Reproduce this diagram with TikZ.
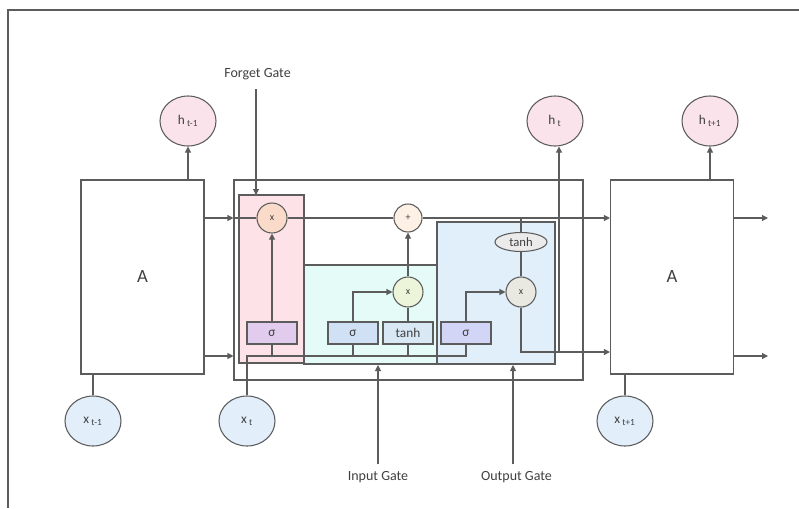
\documentclass[tikz,border=0pt]{standalone}
\usepackage{fontspec}
\setmainfont{Carlito}
\usetikzlibrary{arrows.meta,shapes.geometric,calc}
\definecolor{ln}{HTML}{5C5C5C}
\definecolor{txt}{HTML}{404040}
\definecolor{pinkg}{HTML}{FDE3E7}
\definecolor{cyang}{HTML}{E4FBF7}
\definecolor{blueg}{HTML}{E1EFFB}
\definecolor{purs}{HTML}{E2CCEE}
\definecolor{blus}{HTML}{D0E1F5}
\definecolor{tanhb}{HTML}{D9E8F5}
\definecolor{outs}{HTML}{D3D5F7}
\definecolor{hcol}{HTML}{FBE3EC}
\definecolor{xcol}{HTML}{E2EEFA}
\definecolor{fxcol}{HTML}{FADBC9}
\definecolor{plcol}{HTML}{FDF1E5}
\definecolor{ixcol}{HTML}{ECF5DA}
\definecolor{oxcol}{HTML}{E9E9E2}
\definecolor{thcol}{HTML}{EBEBEB}
\tikzset{
  lw/.style={draw=ln, line width=0.8pt},
  arr/.style={lw, -{Triangle[length=4.5pt,width=4.5pt]}},
  abox/.style={lw, fill=white, minimum width=92.25pt, minimum height=145.5pt, inner sep=0pt, font=\fontsize{14}{16}\selectfont, text=txt},
  gbox/.style={lw, inner sep=0pt},
  sbox/.style={lw, minimum width=37.5pt, minimum height=16.5pt, inner sep=0pt, font=\fontsize{10}{12}\selectfont, text=txt},
  bigc/.style={lw, ellipse, minimum width=42pt, minimum height=37.5pt, inner sep=0pt, font=\fontsize{10}{12}\selectfont, text=txt},
  smc/.style={lw, circle, minimum size=22.5pt, inner sep=0pt, font=\fontsize{7.5}{9}\selectfont, text=txt},
  lbl/.style={font=\fontsize{10.5}{12}\selectfont, text=txt, inner sep=1pt},
}
\begin{document}
\begin{tikzpicture}[x=0.75pt,y=-0.75pt]
\useasboundingbox (0,0) rectangle (799,508);
% frame
\draw[ln, line width=0.9pt] (8,508) -- (8,10) -- (799,10);

% cell and gate regions
\node[lw, minimum width=261.75pt, minimum height=150pt, inner sep=0pt] (cell) at (408.5,280) {};
\node[gbox, fill=pinkg, minimum width=48.75pt, minimum height=126pt] (pink) at (271.5,279) {};
\node[gbox, fill=cyang, minimum width=99.75pt, minimum height=74.25pt] (cyan) at (370.5,314.5) {};
\node[gbox, fill=blueg, minimum width=88.5pt, minimum height=106.5pt] (blue) at (496,293) {};

% A boxes
\node[abox] (A1) at (142.5,277) {A};
\node[abox] (A2) at (672,277) {A};

% outer circles
\node[bigc, fill=hcol] (hp) at (188,121) {h\,\textsubscript{t-1}};
\node[bigc, fill=hcol] (ht) at (555,121) {h\,\textsubscript{t}};
\node[bigc, fill=hcol] (hn) at (710,121) {h\,\textsubscript{t+1}};
\node[bigc, fill=xcol] (xp) at (93,421) {x\,\textsubscript{t-1}};
\node[bigc, fill=xcol] (xt) at (247,421) {x\,\textsubscript{t}};
\node[bigc, fill=xcol] (xn) at (625,421) {x\,\textsubscript{t+1}};

% inner operators
\node[smc, fill=fxcol] (fx) at (272,218) {x};
\node[smc, fill=plcol, minimum size=21pt] (pl) at (408,218) {+};
\node[smc, fill=ixcol] (ix) at (408,292) {x};
\node[smc, fill=oxcol] (ox) at (521,292) {x};
\node[lw, ellipse, fill=thcol, minimum width=39pt, minimum height=14.25pt, inner sep=0pt, font=\fontsize{9.5}{11}\selectfont, text=txt] (th) at (521,242) {tanh};

\node[sbox, fill=purs] (fs) at (272,333) {σ};
\node[sbox, fill=blus] (is) at (353,333) {σ};
\node[sbox, fill=tanhb] (tb) at (408,333) {tanh};
\node[sbox, fill=outs] (os) at (466,333) {σ};

% coordinates
\coordinate (inl) at (247,356);
\coordinate (inr) at (466,356);
\coordinate (low) at (0,356);
\coordinate (oc) at (521,352);
\coordinate (hb) at (559,352);
\coordinate (ct) at (521,218);
\coordinate (o1) at (768,218);
\coordinate (o2) at (768,356);

% cell state line
\draw[arr] (A1.east |- fx) -- (cell.west |- fx);
\draw[lw] (cell.west |- fx) -- (fx.west);
\draw[lw] (fx.east) -- (pl.west);
\draw[arr] (pl.east) -- (pl.east -| A2.west);
\draw[arr] (A2.east |- o1) -- (o1);
% lower line
\draw[arr] (A1.east |- low) -- (cell.west |- low);
\draw[arr] (A2.east |- o2) -- (o2);

% input line
\draw[lw] (xt.north) -- (inl) -- (inr) -- (os.south);
\draw[lw] (fs.south) -- (fs.south |- inl);
\draw[lw] (is.south) -- (is.south |- inl);
\draw[lw] (tb.south) -- (tb.south |- inl);

% forget gate
\draw[arr] (fs.north) -- (fx.south);
% input gate
\draw[arr] (is.north) |- (ix.west);
\draw[lw] (tb.north) -- (ix.south);
\draw[arr] (ix.north) -- (pl.south);
% output gate
\draw[arr] (os.north) |- (ox.west);
\draw[lw] (ct) -- (th.north);
\draw[lw] (th.south) -- (ox.north);
\draw[arr] (ox.south) -- (oc) -- (oc -| A2.west);
\draw[arr] (hb) -- (hb |- ht.south);

% outputs / inputs of A boxes
\draw[arr] (A1.north -| hp) -- (hp.south);
\draw[arr] (A2.north -| hn) -- (hn.south);
\draw[lw] (xp.north) -- (xp.north |- A1.south);
\draw[lw] (xn.north) -- (xn.north |- A2.south);

% labels
\node[lbl] (fg) at (257.5,74) {Forget Gate};
\node[lbl] (ig) at (378,477) {Input Gate};
\node[lbl] (og) at (516.5,477) {Output Gate};
\draw[arr, shorten <=6pt] (fg.south -| 256,0) -- (256,195);
\draw[arr, shorten <=4pt] (ig.north -| 378,0) -- (378,365);
\draw[arr, shorten <=4pt] (og.north -| 513,0) -- (513,365);
\end{tikzpicture}
\end{document}
